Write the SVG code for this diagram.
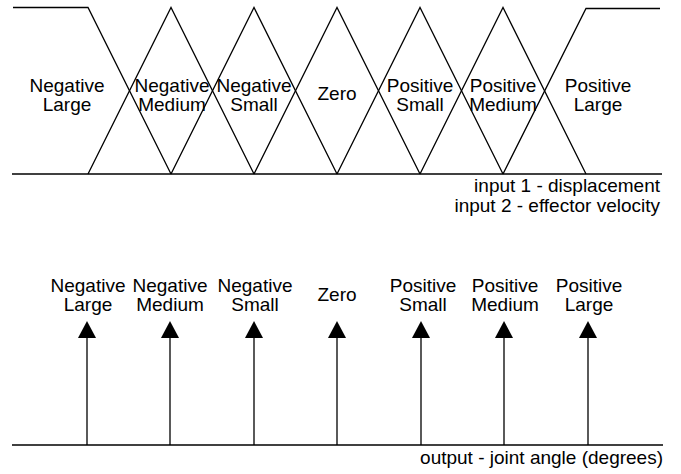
<svg xmlns="http://www.w3.org/2000/svg" width="681" height="474" viewBox="0 0 681 474">
<style>
.ln{stroke:#000;stroke-width:1.3;fill:none}
.t{font-family:"Liberation Sans",Arial,sans-serif;font-size:19px;fill:#000;text-anchor:middle}
.r{font-family:"Liberation Sans",Arial,sans-serif;font-size:19px;fill:#000;text-anchor:end}
</style>
<defs>
<marker id="ah" markerWidth="17" markerHeight="18" refX="0" refY="9" markerUnits="userSpaceOnUse" orient="auto" viewBox="0 0 17 18"><path d="M0,0 L17,9 L0,18 Z" fill="#000"/></marker>
</defs>
<rect width="681" height="474" fill="#fff"/>
<g id="connectors">
<line class="ln" x1="12" y1="174" x2="662" y2="174"/>
<line class="ln" x1="12" y1="445" x2="663" y2="445"/>
</g>
<g id="in-NL"><polyline class="ln" points="13,7.5 88,7.5 171,174"/><text class="t" x="67" y="92">Negative</text><text class="t" x="67" y="110.5">Large</text></g>
<g id="in-NM"><polyline class="ln" points="88,174 171,7.5 254,174"/><text class="t" x="172" y="92">Negative</text><text class="t" x="172" y="110.5">Medium</text></g>
<g id="in-NS"><polyline class="ln" points="171,174 254,7.5 337,174"/><text class="t" x="254" y="92">Negative</text><text class="t" x="254" y="110.5">Small</text></g>
<g id="in-Z"><polyline class="ln" points="254,174 337,7.5 420,174"/><text class="t" x="337" y="100">Zero</text></g>
<g id="in-PS"><polyline class="ln" points="337,174 420,7.5 503,174"/><text class="t" x="420" y="92">Positive</text><text class="t" x="420" y="110.5">Small</text></g>
<g id="in-PM"><polyline class="ln" points="420,174 503,7.5 586,174"/><text class="t" x="503" y="92">Positive</text><text class="t" x="503" y="110.5">Medium</text></g>
<g id="in-PL"><polyline class="ln" points="503,174 586,8.5 660,8.5"/><text class="t" x="598" y="92">Positive</text><text class="t" x="598" y="110.5">Large</text></g>
<g id="in-labels"><text class="r" x="660" y="192">input 1 - displacement</text><text class="r" x="660" y="212">input 2 - effector velocity</text></g>
<g id="out-NL"><line class="ln" x1="87" y1="445" x2="87" y2="338" marker-end="url(#ah)"/><text class="t" x="88" y="292">Negative</text><text class="t" x="88" y="310.5">Large</text></g>
<g id="out-NM"><line class="ln" x1="170" y1="445" x2="170" y2="338" marker-end="url(#ah)"/><text class="t" x="170" y="292">Negative</text><text class="t" x="170" y="310.5">Medium</text></g>
<g id="out-NS"><line class="ln" x1="254" y1="445" x2="254" y2="338" marker-end="url(#ah)"/><text class="t" x="255" y="292">Negative</text><text class="t" x="255" y="310.5">Small</text></g>
<g id="out-Z"><line class="ln" x1="337" y1="445" x2="337" y2="338" marker-end="url(#ah)"/><text class="t" x="337" y="300.5">Zero</text></g>
<g id="out-PS"><line class="ln" x1="421" y1="445" x2="421" y2="338" marker-end="url(#ah)"/><text class="t" x="423" y="292">Positive</text><text class="t" x="423" y="310.5">Small</text></g>
<g id="out-PM"><line class="ln" x1="504" y1="445" x2="504" y2="338" marker-end="url(#ah)"/><text class="t" x="505" y="292">Positive</text><text class="t" x="505" y="310.5">Medium</text></g>
<g id="out-PL"><line class="ln" x1="588" y1="445" x2="588" y2="338" marker-end="url(#ah)"/><text class="t" x="589" y="292">Positive</text><text class="t" x="589" y="310.5">Large</text></g>
<g id="out-label"><text class="r" x="663" y="464">output - joint angle (degrees)</text></g>
</svg>
